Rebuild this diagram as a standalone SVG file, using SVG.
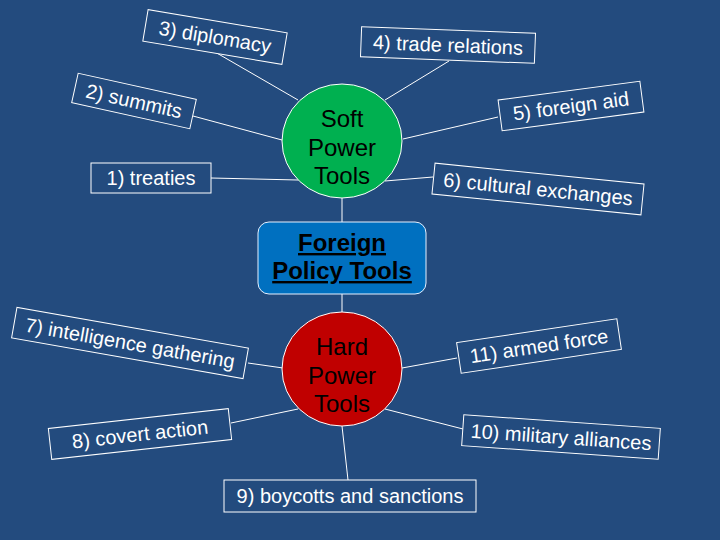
<svg xmlns="http://www.w3.org/2000/svg" width="720" height="540" viewBox="0 0 720 540">
<style>
.bg{fill:#234B7E}
.box{fill:#234B7E;stroke:#FFFFFF;stroke-width:1}
.lbl{font-family:"Liberation Sans",Arial,sans-serif;font-size:20px;fill:#FFFFFF;text-anchor:middle}
.hub{font-family:"Liberation Sans",Arial,sans-serif;font-size:24px;fill:#000000;text-anchor:middle}
.conn line{stroke:#FFFFFF;stroke-width:1}
</style>
<rect class="bg" x="0" y="0" width="720" height="540"/>
<g id="connectors" class="conn">
<line x1="215" y1="52" x2="298" y2="100"/>
<line x1="193" y1="116" x2="282" y2="140"/>
<line x1="211" y1="178" x2="298" y2="180"/>
<line x1="449" y1="61" x2="385" y2="100"/>
<line x1="498" y1="117" x2="403" y2="139"/>
<line x1="433" y1="177" x2="385" y2="181"/>
<line x1="342" y1="198" x2="342" y2="222"/>
<line x1="342" y1="294" x2="342" y2="312"/>
<line x1="248" y1="363" x2="283" y2="368"/>
<line x1="231" y1="423" x2="298" y2="409"/>
<line x1="457" y1="358" x2="402" y2="368"/>
<line x1="463" y1="429" x2="385" y2="409"/>
<line x1="348" y1="480" x2="342" y2="426"/>
</g>
<g id="soft">
<ellipse cx="342" cy="141" rx="60" ry="57" fill="#00B050" stroke="#FFFFFF" stroke-width="1"/>
<text class="hub" x="342" y="127">Soft</text>
<text class="hub" x="342" y="156">Power</text>
<text class="hub" x="342" y="184">Tools</text>
</g>
<g id="foreign">
<rect x="258" y="222" width="168" height="72" rx="11" fill="#0070C0" stroke="#E6F0FF" stroke-width="1"/>
<text class="hub" x="342" y="251" font-weight="bold" text-decoration="underline">Foreign</text>
<text class="hub" x="342" y="279" font-weight="bold" text-decoration="underline">Policy Tools</text>
</g>
<g id="hard">
<ellipse cx="342" cy="369" rx="60" ry="57" fill="#C00000" stroke="#FFFFFF" stroke-width="1"/>
<text class="hub" x="342" y="355">Hard</text>
<text class="hub" x="342" y="384">Power</text>
<text class="hub" x="342" y="412">Tools</text>
</g>
<g id="n1">
<rect class="box" x="91" y="163" width="120" height="30"/>
<text class="lbl" x="151" y="185">1) treaties</text>
</g>
<g id="n2" transform="translate(134,101) rotate(12.5)">
<rect class="box" x="-60.5" y="-15" width="121" height="30"/>
<text class="lbl" x="0" y="7">2) summits</text>
</g>
<g id="n3" transform="translate(215,37) rotate(9.5)">
<rect class="box" x="-70.5" y="-16" width="141" height="32"/>
<text class="lbl" x="0" y="7">3) diplomacy</text>
</g>
<g id="n4" transform="translate(448,45) rotate(2.2)">
<rect class="box" x="-87" y="-15" width="174" height="30"/>
<text class="lbl" x="0" y="7">4) trade relations</text>
</g>
<g id="n5" transform="translate(571,106) rotate(-7.5)">
<rect class="box" x="-71.5" y="-15.5" width="143" height="31"/>
<text class="lbl" x="0" y="7">5) foreign aid</text>
</g>
<g id="n6" transform="translate(538,189) rotate(5.7)">
<rect class="box" x="-105" y="-15.5" width="210" height="31"/>
<text class="lbl" x="0" y="7">6) cultural exchanges</text>
</g>
<g id="n7" transform="translate(130,343) rotate(10)">
<rect class="box" x="-117.5" y="-15.5" width="235" height="31"/>
<text class="lbl" x="0" y="7">7) intelligence gathering</text>
</g>
<g id="n8" transform="translate(140,434) rotate(-6.3)">
<rect class="box" x="-90.5" y="-15.5" width="181" height="31"/>
<text class="lbl" x="0" y="7">8) covert action</text>
</g>
<g id="n9">
<rect class="box" x="224" y="480" width="252" height="32"/>
<text class="lbl" x="350" y="503">9) boycotts and sanctions</text>
</g>
<g id="n10" transform="translate(561,437) rotate(4)">
<rect class="box" x="-98.5" y="-15.5" width="197" height="31"/>
<text class="lbl" x="0" y="7">10) military alliances</text>
</g>
<g id="n11" transform="translate(539,346) rotate(-8.5)">
<rect class="box" x="-81" y="-15.5" width="162" height="31"/>
<text class="lbl" x="0" y="7">11) armed force</text>
</g>
</svg>
